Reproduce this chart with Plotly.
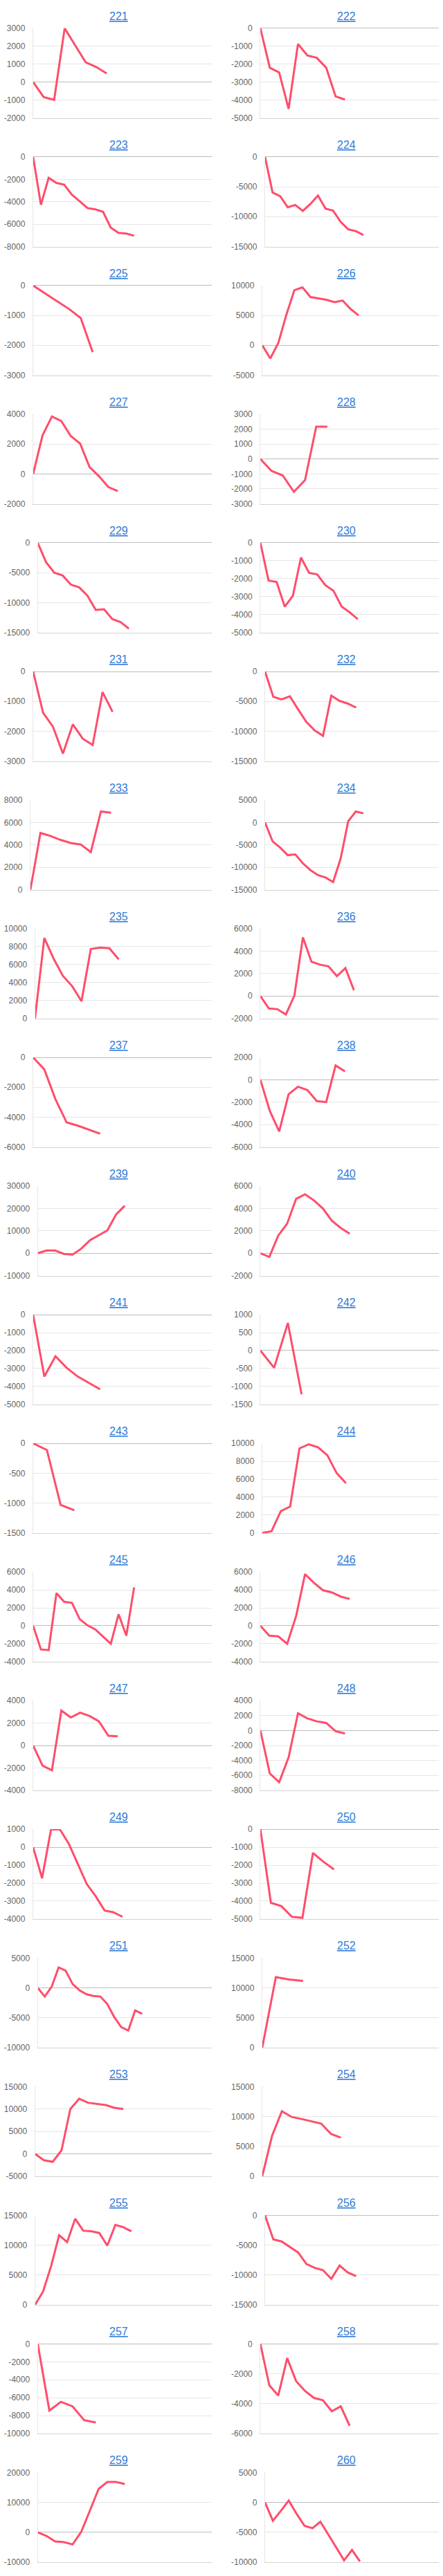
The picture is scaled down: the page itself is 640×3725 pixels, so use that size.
import plotly.graph_objects as go

# ---------------- data ----------------
TITLES = [str(n) for n in range(221, 261)]

s221 = [0, -840, -990, 3000, 2050, 1100, 840, 480]
s222 = [0, -2200, -2470, -4500, -880, -1520, -1650, -2200, -3800, -3980]
s223 = [0, -4270, -1870, -2320, -2480, -3380, -3960, -4570, -4680, -4900, -6320, -6790, -6850, -7040]
s224 = [0, -5960, -6580, -8420, -8040, -9040, -7880, -6460, -8650, -9000, -10880, -12120, -12420, -13080]
s225 = [0, -250, -520, -780, -1090, -2230]
s226 = [0, -2190, 380, 5110, 9230, 9690, 8080, 7810, 7620, 7230, 7500, 6080, 5000]
s227 = [0, 2580, 3850, 3540, 2540, 2030, 460, -150, -880, -1150]
s228 = [0, -800, -1100, -2200, -1420, 2170, 2170]
s229 = [0, -3230, -5000, -5460, -7000, -7460, -8850, -11230, -11120, -12770, -13270, -14380]
s230 = [0, -2100, -2180, -3560, -2960, -820, -1680, -1760, -2360, -2670, -3550, -3880, -4260]
s231 = [0, -1380, -1850, -2750, -1770, -2250, -2460, -690, -1350]
s232 = [0, -4230, -4690, -4150, -6350, -8460, -9880, -10770, -4040, -4920, -5380, -6040]
s233 = [0, 5070, 4800, 4450, 4180, 4040, 3360, 6990, 6870]
s234 = [0, -4200, -5590, -7280, -7130, -9080, -10620, -11740, -12260, -13280, -8050, 300, 2460, 2050]
s235 = [0, 8970, 6670, 4740, 3590, 1920, 7740, 7900, 7820, 6590]
s236 = [0, -1120, -1180, -1650, 40, 5240, 3060, 2800, 2650, 1770, 2490, 510]
s237 = [0, -800, -2800, -4350, -4570, -4830, -5110]
s238 = [0, -2770, -4610, -1290, -610, -920, -1900, -1990, 1290, 760]
s239 = [0, 1230, 1230, -300, -620, 2050, 5850, 8100, 10200, 17300, 21200]
s240 = [0, -330, 1580, 2650, 4860, 5270, 4720, 4000, 2910, 2260, 1740]
s241 = [0, -3450, -2320, -2960, -3450, -3810, -4160]
s242 = [0, -480, 770, -1220]
s243 = [0, -110, -1030, -1120]
s244 = [0, 200, 2440, 2950, 9440, 9900, 9570, 8670, 6690, 5560]
s245 = [0, -2640, -2720, 3640, 2670, 2560, 740, 50, -410, -1230, -2000, 1280, -1100, 4280]
s246 = [0, -1100, -1180, -2000, 1080, 5770, 4790, 3970, 3720, 3260, 3000]
s247 = [0, -1800, -2220, 3120, 2500, 2930, 2630, 2150, 860, 820]
s248 = [0, -5750, -6920, -3600, 2310, 1630, 1230, 1020, -90, -400]
s249 = [0, -1730, 990, 990, 190, -900, -2050, -2730, -3530, -3630, -3880]
s250 = [0, -4100, -4290, -4880, -4940, -1320, -1810, -2240]
s251 = [0, -1460, 200, 3420, 2880, 650, -420, -1080, -1350, -1460, -2730, -4920, -6580, -7150, -3770, -4350]
s252 = [0, 11800, 11400, 11150]
s253 = [0, -1440, -1790, 770, 10000, 12300, 11400, 11180, 10870, 10260, 10000]
s254 = [0, 6770, 10880, 9920, 9580, 9150, 8810, 7080, 6460]
s255 = [0, 2230, 6460, 11650, 10500, 14420, 12420, 12310, 12040, 9920, 13380, 13000, 12310]
s256 = [0, -4040, -4380, -5270, -6230, -8150, -8810, -9190, -10650, -8420, -9580, -10190]
s257 = [0, -7440, -6460, -6970, -8510, -8770]
s258 = [0, -2770, -3460, -950, -2490, -3150, -3620, -3770, -4510, -4180, -5490]
s259 = [0, -1230, -3080, -3310, -4080, 150, 7310, 14540, 16850, 16850, 16150]
s260 = [0, -3080, -1420, 310, -1920, -3920, -4310, -3230, -5380, -7460, -9690, -7960, -9880]

SERIES = [s221, s222, s223, s224, s225, s226, s227, s228, s229, s230,
          s231, s232, s233, s234, s235, s236, s237, s238, s239, s240,
          s241, s242, s243, s244, s245, s246, s247, s248, s249, s250,
          s251, s252, s253, s254, s255, s256, s257, s258, s259, s260]

# y-axis tick ranges (min, max, step) as shown on each panel
Y_MIN = [-2000, -5000, -8000, -15000, -3000, -5000, -2000, -3000, -15000, -5000,
         -3000, -15000, 0, -15000, 0, -2000, -6000, -6000, -10000, -2000,
         -5000, -1500, -1500, 0, -4000, -4000, -4000, -8000, -4000, -5000,
         -10000, 0, -5000, 0, 0, -15000, -10000, -6000, -10000, -10000]
Y_MAX = [3000, 0, 0, 0, 0, 10000, 4000, 3000, 0, 0,
         0, 0, 8000, 5000, 10000, 6000, 0, 2000, 30000, 6000,
         0, 1000, 0, 10000, 6000, 6000, 4000, 4000, 1000, 0,
         5000, 15000, 15000, 15000, 15000, 0, 0, 0, 20000, 5000]
Y_STEP = [1000, 1000, 2000, 5000, 1000, 5000, 2000, 1000, 5000, 1000,
          1000, 5000, 2000, 5000, 2000, 2000, 2000, 2000, 10000, 2000,
          1000, 500, 500, 2000, 2000, 2000, 2000, 2000, 1000, 1000,
          5000, 5000, 5000, 5000, 5000, 5000, 2000, 2000, 10000, 5000]
EXTRA_CATEGORIES = 10  # empty x categories after the data on every panel

# ---------------- styling / layout ----------------
W, H = 640, 3725
PITCH = 186.68
TOP0 = 35.0
PLOT_H = 130.0
COL_OFF = [0.0, 328.3]
PLOT_RIGHT = 305.9
LABEL_PAD = 17.2
TITLE_X = [171.0, 500.0]
LINE_COLOR = "#ff4d6b"
TITLE_COLOR = "#2f7bd8"
GRID = "#e6e6e6"
ZERO = "#bdbdbd"
FONT = "Liberation Sans, Arial, sans-serif"


def text_w(s):
    return sum(6.672 if ch.isdigit() else 3.996 for ch in s)


fig = go.Figure()
layout = dict(
    width=W, height=H, margin=dict(l=0, r=0, t=0, b=0),
    paper_bgcolor="white", plot_bgcolor="white", showlegend=False,
    font=dict(family=FONT, size=12, color="#666666"),
)
annotations = []

for i, (title, vals) in enumerate(zip(TITLES, SERIES)):
    k = i + 1
    r, c = divmod(i, 2)
    n = len(vals)
    ncat = n + EXTRA_CATEGORIES
    ymin, ymax, step = Y_MIN[i], Y_MAX[i], Y_STEP[i]
    tickvals = list(range(ymin, ymax + step, step))
    ticktext = [str(v) for v in tickvals]

    top = TOP0 + PITCH * r
    bottom = top + PLOT_H
    span = ymax - ymin
    eps = 0.003 * span
    eps_px = eps / span * PLOT_H

    x0 = COL_OFF[c] + LABEL_PAD + max(text_w(t) for t in ticktext)
    x1 = COL_OFF[c] + PLOT_RIGHT

    xa = "xaxis" if k == 1 else f"xaxis{k}"
    ya = "yaxis" if k == 1 else f"yaxis{k}"
    xr = "x" if k == 1 else f"x{k}"
    yr = "y" if k == 1 else f"y{k}"

    layout[xa] = dict(
        domain=[x0 / W, x1 / W], range=[0, ncat - 1], anchor=yr,
        showticklabels=False, showgrid=False, zeroline=False,
        showline=True, linecolor="#d4d4d4", linewidth=1, ticks="",
        fixedrange=True,
    )
    layout[ya] = dict(
        domain=[1 - (bottom + eps_px) / H, 1 - (top - eps_px) / H],
        range=[ymin - eps, ymax + eps], anchor=xr,
        tickmode="array", tickvals=tickvals, ticktext=ticktext,
        showgrid=True, gridcolor=GRID, gridwidth=1,
        zeroline=True, zerolinecolor=ZERO, zerolinewidth=1,
        showline=True, linecolor=GRID, linewidth=1,
        ticks="outside", ticklen=8, tickcolor="rgba(0,0,0,0)",
        tickfont=dict(family=FONT, size=12, color="#666666"),
        fixedrange=True,
    )

    fig.add_trace(go.Scatter(
        x=list(range(n)), y=vals, mode="lines",
        line=dict(color=LINE_COLOR, width=3),
        xaxis=xr, yaxis=yr, hoverinfo="skip",
    ))

    annotations.append(dict(
        text=f"<u>{title}</u>", x=TITLE_X[c] / W, y=1 - (top - 17.5) / H,
        xref="paper", yref="paper", xanchor="center", yanchor="middle",
        showarrow=False, font=dict(family=FONT, size=16, color=TITLE_COLOR),
    ))

layout["annotations"] = annotations
fig.update_layout(**layout)
fig.write_html("out.html")
